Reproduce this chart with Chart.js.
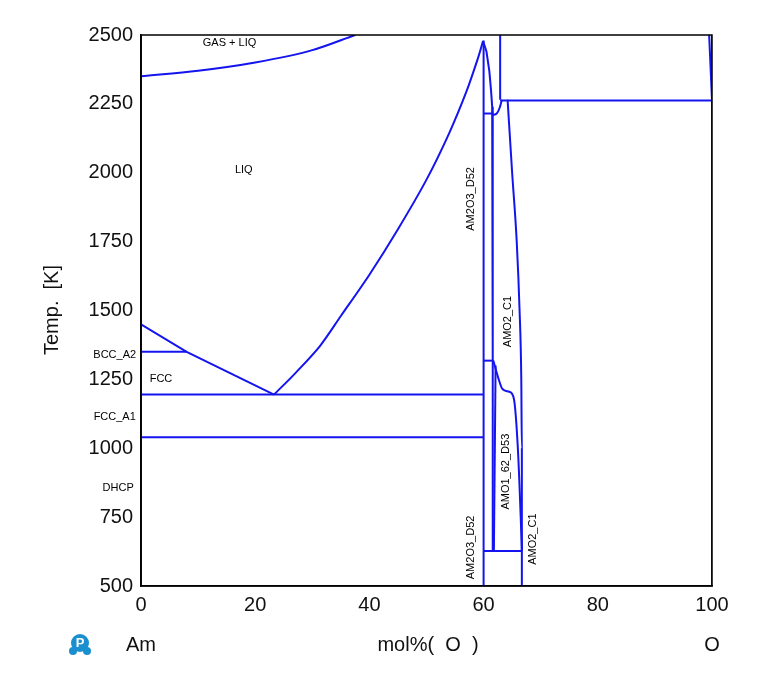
<!DOCTYPE html>
<html>
<head>
<meta charset="utf-8">
<script src="https://cdn.jsdelivr.net/npm/chart.js@4"></script>
<style>body{margin:0;background:#fff}#wrap{width:759px;height:695px}</style>
</head>
<body>
<div id="wrap"><canvas id="myChart"></canvas></div>
<script>
// phase boundary lines, [mol% O, T(K)]
var gasLiq = [[0,2350],[10,2370],[20,2400],[30,2445],[37.5,2500]];
var leftEdge = [[0,500],[0,2500]];
var fccLiquidus = [[0,1450],[8,1350],[23.3,1195]];
var bccLine = [[0,1350],[8,1350]];
var eutectic = [[0,1195],[60,1195]];
var dhcpLine = [[0,1040],[60,1040]];
var liqRight = [[23.3,1195],[27,1272],[31.3,1370],[35,1480],[40,1630],[45,1795],[50,1975],[54,2145],[57,2295],[59,2415],[59.9,2478]];
var am2o3Left = [[60,500],[60,2480]];
var am2o3Right = [[59.9,2478],[60.5,2440],[61,2370],[61.3,2300],[61.5,2240],[61.6,2210],[61.6,1315]];
var peritectic1 = [[60,2215],[61.7,2215]];
var smallCurve = [[61.6,2210],[62.3,2215],[62.8,2235],[63.2,2265]];
var liqTop = [[62.9,2265],[62.9,2500]];
var monotectic = [[62.9,2262],[100,2262]];
var amo2Left = [[64.2,2265],[65,2000],[65.8,1750],[66.3,1500],[66.6,1250],[66.7,1000],[66.7,500]];
var peritectic2 = [[60,1318],[61.7,1318]];
var d53Curve = [[61.7,1318],[62.5,1260],[63.3,1215],[64.5,1205],[65.3,1180],[66,1000],[66.5,750],[66.7,627]];
var d53Left = [[61.6,1315],[61.6,625]];
var d53Right = [[62.1,1300],[61.8,625]];
var eutectoid = [[60,627],[66.7,627]];
var rightTop = [[99.5,2500],[100,2265]];
var rightEdge = [[100,500],[100,2500]];

var smooth = [gasLiq, amo2Left, d53Curve, smallCurve];
var lines = [gasLiq, leftEdge, fccLiquidus, bccLine, eutectic, dhcpLine, liqRight, am2o3Left,
  am2o3Right, peritectic1, smallCurve, liqTop, monotectic, amo2Left, peritectic2, d53Curve,
  d53Left, d53Right, eutectoid, rightTop, rightEdge];

var phaseLabels = [
  {text:'GAS + LIQ', x:15.5, y:2470},
  {text:'LIQ', x:18, y:2010},
  {text:'BCC_A2', x:-4.6, y:1340},
  {text:'FCC', x:3.5, y:1250},
  {text:'FCC_A1', x:-4.6, y:1115},
  {text:'DHCP', x:-4, y:855}
];
var vertLabels = [
  {text:'AM2O3_D52', x:57.8, y:1905},
  {text:'AM2O3_D52', x:57.8, y:640},
  {text:'AMO2_C1', x:64.2, y:1460},
  {text:'AMO1_62_D53', x:63.9, y:915},
  {text:'AMO2_C1', x:68.7, y:670}
];

var xTicks = [0,20,40,60,80,100];
var yTicks = [500,750,1000,1250,1500,1750,2000,2250,2500];

var datasets = lines.map(function(l) {
  return {
    data: l.map(function(p) { return {x:p[0], y:p[1]}; }),
    showLine: true, borderColor: 'rgb(20,20,240)', borderWidth: 2,
    pointRadius: 0, fill: false,
    cubicInterpolationMode: smooth.indexOf(l) >= 0 ? 'monotone' : 'default',
    tension: l === liqRight ? 0.3 : 0
  };
});

var labelPlugin = {
  id: 'labels',
  afterDraw: function(chart) {
    var ctx = chart.ctx, xs = chart.scales.x, ys = chart.scales.y, a = chart.chartArea;
    ctx.save();
    ctx.strokeStyle = '#000'; ctx.lineWidth = 1.5;
    ctx.strokeRect(a.left, a.top, a.right - a.left, a.bottom - a.top);
    ctx.fillStyle = '#000';
    ctx.font = '11px "Liberation Sans", Arial';
    ctx.textAlign = 'center'; ctx.textBaseline = 'middle';
    phaseLabels.forEach(function(l) {
      ctx.fillText(l.text, xs.getPixelForValue(l.x), ys.getPixelForValue(l.y));
    });
    vertLabels.forEach(function(l) {
      ctx.save();
      ctx.translate(xs.getPixelForValue(l.x), ys.getPixelForValue(l.y));
      ctx.rotate(-Math.PI / 2);
      ctx.fillText(l.text, 0, 0);
      ctx.restore();
    });
    ctx.font = '20px "Liberation Sans", Arial';
    ctx.fillStyle = '#111';
    ctx.fillText('Am', a.left, 645);
    ctx.fillText('mol%(  O  )', 428, 645);
    ctx.fillText('O', a.right, 645);
    ctx.save();
    ctx.translate(52, 310);
    ctx.rotate(-Math.PI / 2);
    ctx.fillText('Temp.  [K]', 0, 0);
    ctx.restore();
    // logo
    ctx.fillStyle = '#1a8fd0';
    ctx.beginPath(); ctx.arc(80, 643, 9, 0, 2 * Math.PI); ctx.fill();
    ctx.beginPath(); ctx.arc(73, 651, 4, 0, 2 * Math.PI); ctx.fill();
    ctx.beginPath(); ctx.arc(87, 651, 4, 0, 2 * Math.PI); ctx.fill();
    ctx.fillStyle = '#fff';
    ctx.font = 'bold 13px "Liberation Sans", Arial';
    ctx.fillText('P', 80, 643);
    ctx.restore();
  }
};

new Chart(document.getElementById('myChart'), {
  type: 'scatter',
  data: { datasets: datasets },
  plugins: [labelPlugin],
  options: {
    responsive: true, maintainAspectRatio: false, animation: false,
    layout: { padding: { left: 0, top: 35, right: 47, bottom: 79 } },
    plugins: { legend: { display: false }, tooltip: { enabled: false } },
    scales: {
      x: {
        type: 'linear', min: 0, max: 100,
        afterFit: function(s) { s.height = 30; },
        afterBuildTicks: function(s) { s.ticks = xTicks.map(function(v) { return {value:v}; }); },
        grid: { display: false, tickLength: 5, color: '#000' },
        border: { color: '#000', width: 1.5 },
        ticks: { color: '#111', font: { size: 20, family: '"Liberation Sans", Arial' }, padding: 2,
          callback: function(v) { return String(v); } }
      },
      y: {
        type: 'linear', min: 500, max: 2500,
        afterFit: function(s) { s.width = 141; },
        afterBuildTicks: function(s) { s.ticks = yTicks.map(function(v) { return {value:v}; }); },
        grid: { display: false, tickLength: 5, color: '#000' },
        border: { color: '#000', width: 1.5 },
        ticks: { color: '#111', font: { size: 20, family: '"Liberation Sans", Arial' }, padding: 3,
          callback: function(v) { return String(v); } }
      }
    }
  }
});
</script>
</body>
</html>
